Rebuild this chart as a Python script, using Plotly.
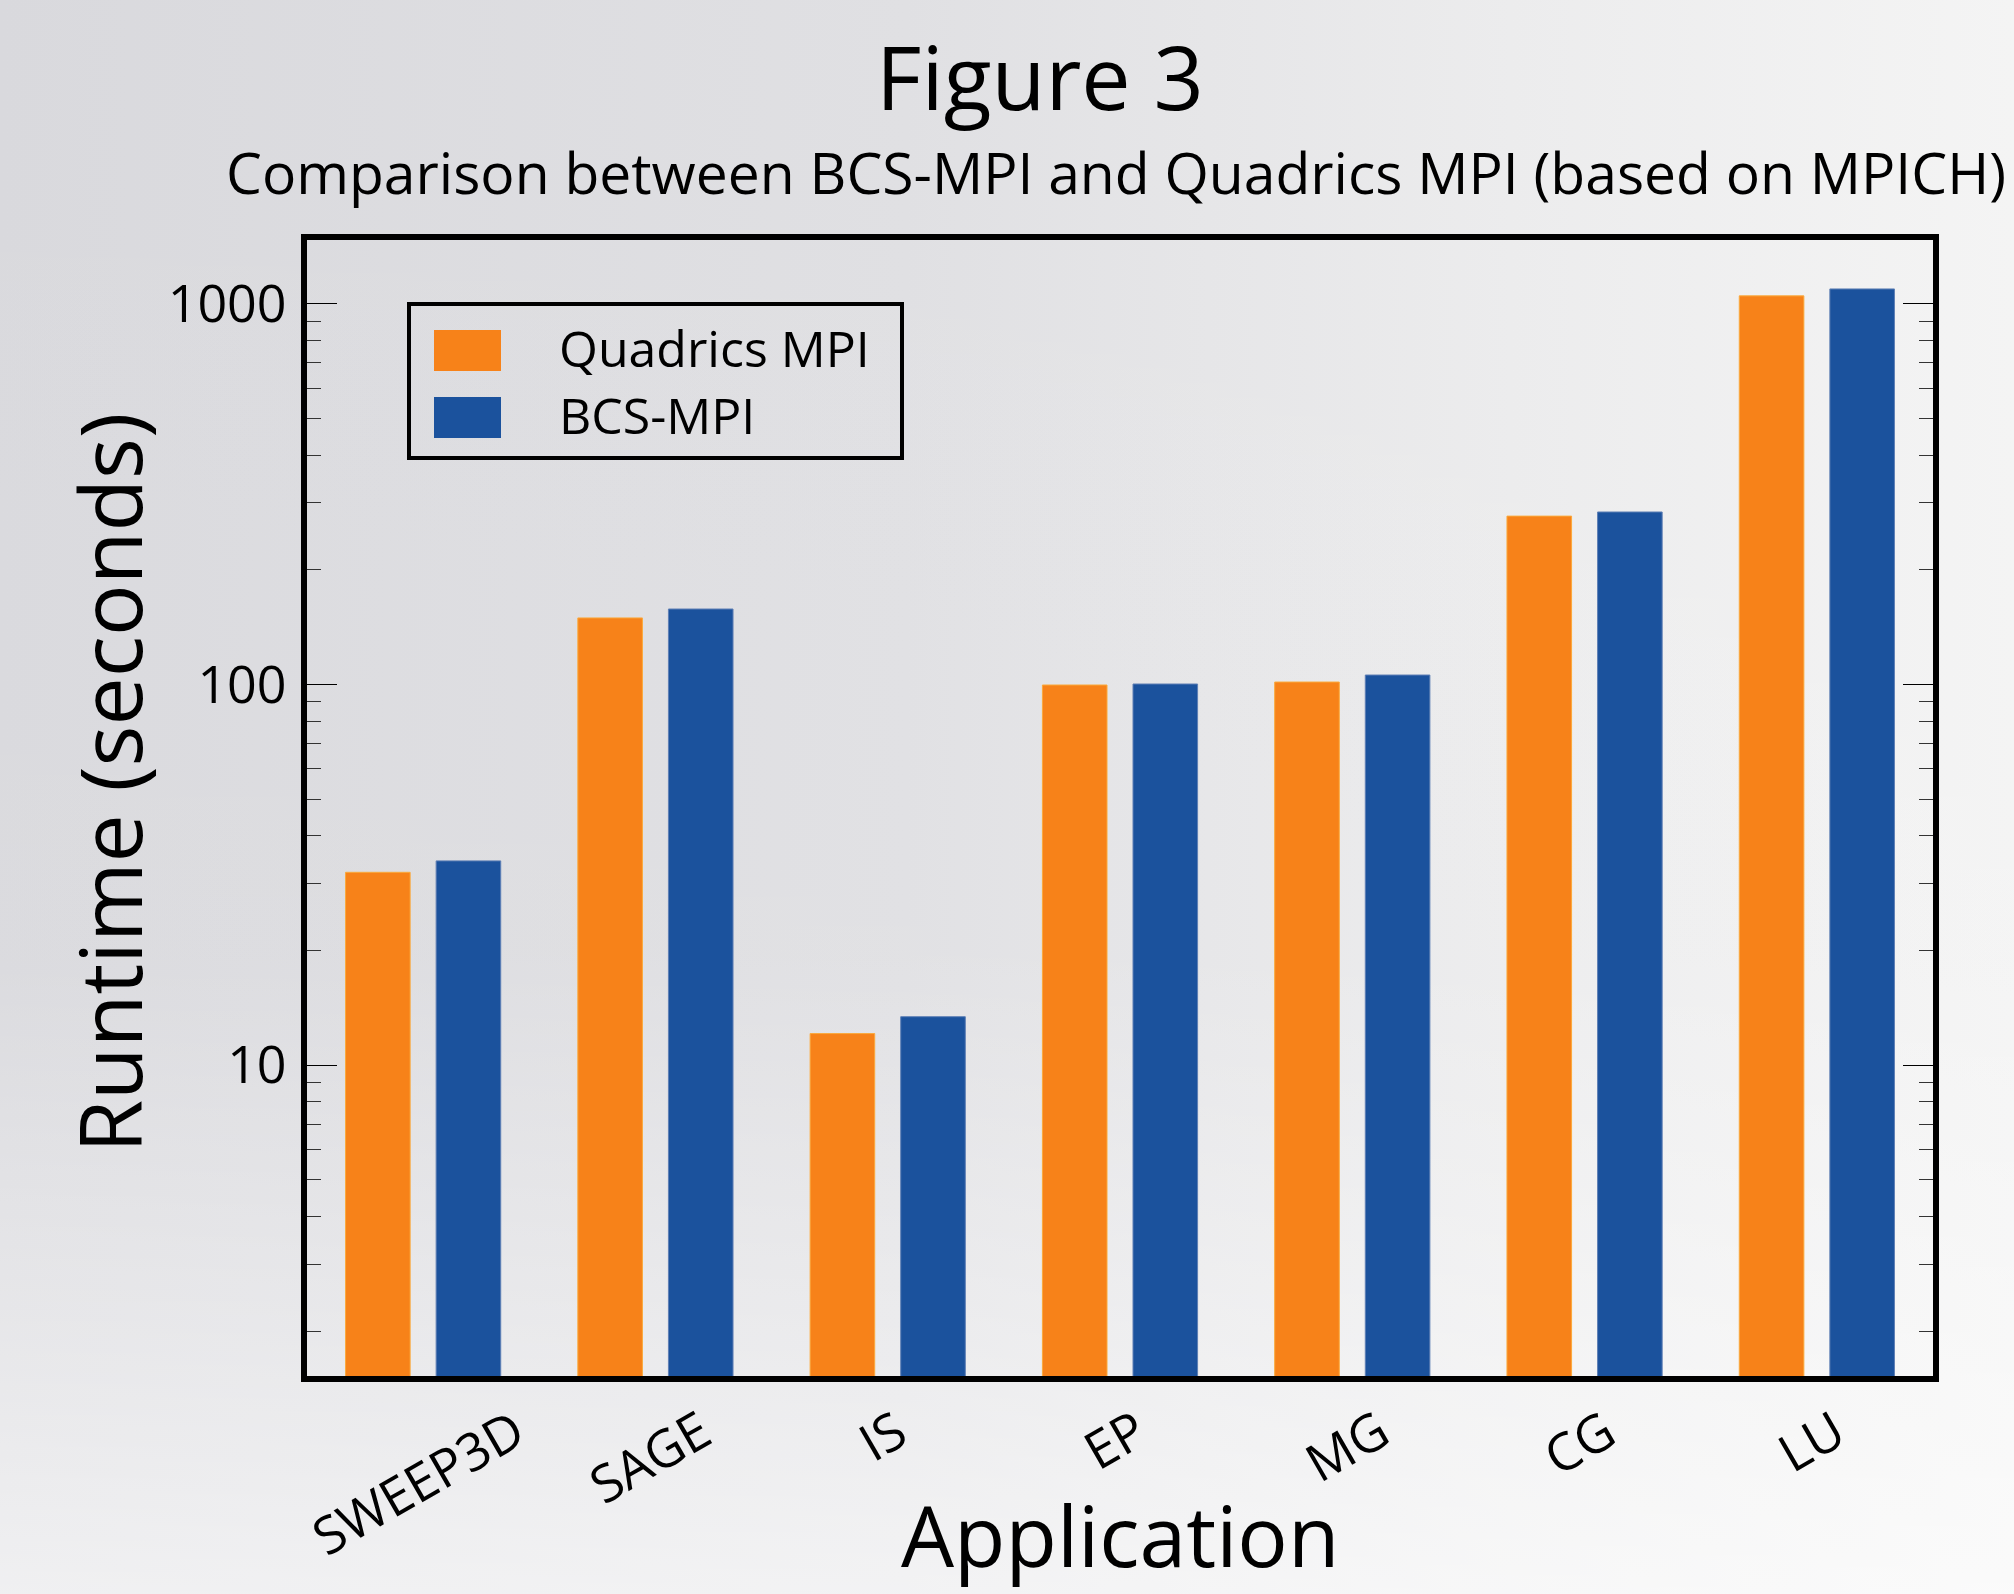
import base64
import plotly.graph_objects as go

# ---------------- data ----------------
applications = ["SWEEP3D", "SAGE", "IS", "EP", "MG", "CG", "LU"]
quadrics_mpi = [32.1, 149.6, 12.1, 99.7, 101.5, 277, 1050]
bcs_mpi = [34.4, 157.9, 13.4, 100.3, 105.9, 284, 1095]
y_tick_values = [10, 100, 1000]
y_tick_labels = ["10", "100", "1000"]
series_names = ["Quadrics MPI", "BCS-MPI"]

# ---------------- style ----------------
ORANGE = "#F78219"
BLUE = "#1B529D"
FONT = "Open Sans"
W, H = 2014, 1594
L, R, T, B = 307, 1933, 240, 1376  # plot area in pixels
PW, PH = R - L, B - T


def px_x(x):
    return (x - L) / PW


def px_y(y):
    return (B - y) / PH


fig = go.Figure()
fig.add_trace(go.Bar(x=applications, y=quadrics_mpi, name=series_names[0],
                     marker=dict(color=ORANGE, line=dict(color="#FBA93B", width=1)),
                     showlegend=False))
fig.add_trace(go.Bar(x=applications, y=bcs_mpi, name=series_names[1],
                     marker=dict(color=BLUE, line=dict(color="#5E7FB5", width=1)),
                     showlegend=False))

# background gradient image
svg = f"""<svg xmlns='http://www.w3.org/2000/svg' width='{W}' height='{H}' viewBox='0 0 {W} {H}' preserveAspectRatio='none'>
<defs>
<linearGradient id='h' x1='0' y1='0' x2='1' y2='0'>
<stop offset='0' stop-color='#d9d9dd'/>
<stop offset='0.45' stop-color='#e0e0e3'/>
<stop offset='0.75' stop-color='#ececed'/>
<stop offset='1' stop-color='#f4f4f4'/>
</linearGradient>
<linearGradient id='v' x1='0' y1='0' x2='0' y2='1'>
<stop offset='0' stop-color='#ffffff' stop-opacity='0'/>
<stop offset='0.6' stop-color='#ffffff' stop-opacity='0.05'/>
<stop offset='1' stop-color='#ffffff' stop-opacity='0.6'/>
</linearGradient>
</defs>
<rect width='{W}' height='{H}' fill='url(#h)'/>
<rect width='{W}' height='{H}' fill='url(#v)'/>
</svg>"""
bg_src = "data:image/svg+xml;base64," + base64.b64encode(svg.encode()).decode()

minor_vals = [m * d for d in (1, 10, 100) for m in range(2, 10)]

fig.update_layout(
    width=W, height=H,
    margin=dict(l=L, r=W - R, t=T, b=H - B, pad=0),
    paper_bgcolor="#e6e6e8",
    plot_bgcolor="rgba(0,0,0,0)",
    font=dict(family=FONT, color="black"),
    barmode="group",
    bargap=0.22,
    bargroupgap=0.287,
    images=[dict(source=bg_src, xref="paper", yref="paper",
                 x=px_x(0), y=px_y(0), sizex=W / PW, sizey=H / PH,
                 xanchor="left", yanchor="top", sizing="stretch", layer="below")],
    xaxis=dict(range=[-0.5, 6.5], showline=True, linewidth=6, linecolor="black",
               mirror=True, ticks="", showticklabels=False, showgrid=False, zeroline=False),
    yaxis=dict(type="log", range=[0.183, 3.168], showline=True, linewidth=6,
               linecolor="black", mirror="ticks", ticks="inside", ticklen=30,
               tickwidth=1, tickcolor="black", tickvals=y_tick_values,
               ticktext=y_tick_labels, tickfont=dict(size=52, family=FONT),
               showgrid=False, zeroline=False, ticklabelstandoff=4,
               minor=dict(tickvals=minor_vals, ticks="inside", ticklen=14,
                          tickwidth=1, tickcolor="#333333", showgrid=False)),
)

annotations = [
    dict(text="Figure 3", x=px_x(1040), y=px_y(76), xref="paper", yref="paper",
         xanchor="center", yanchor="middle", showarrow=False, font=dict(size=88)),
    dict(text="Comparison between BCS-MPI and Quadrics MPI (based on MPICH)",
         x=px_x(1116), y=px_y(172), xref="paper", yref="paper",
         xanchor="center", yanchor="middle", showarrow=False, font=dict(size=57)),
    dict(text="Runtime (seconds)", x=px_x(108), y=px_y(783), xref="paper", yref="paper",
         xanchor="center", yanchor="middle", textangle=-90, showarrow=False,
         font=dict(size=86)),
    dict(text="Application", x=px_x(1120), y=px_y(1534), xref="paper", yref="paper",
         xanchor="center", yanchor="middle", showarrow=False, font=dict(size=84)),
]
for app in applications:
    annotations.append(dict(text=app, x=app, y=px_y(1390), xref="x", yref="paper",
                            xanchor="center", yanchor="top", textangle=-30, xshift=-6,
                            showarrow=False, font=dict(size=52)))

# legend (custom, large swatches)
legend_colors = [ORANGE, BLUE]
swatch_y = [(330, 371), (397, 438)]
shapes = [dict(type="rect", xref="paper", yref="paper",
               x0=px_x(409), x1=px_x(902), y0=px_y(458), y1=px_y(304),
               line=dict(color="black", width=4), fillcolor="rgba(0,0,0,0)")]
for name, col, (y0, y1) in zip(series_names, legend_colors, swatch_y):
    shapes.append(dict(type="rect", xref="paper", yref="paper",
                       x0=px_x(434), x1=px_x(501), y0=px_y(y1), y1=px_y(y0),
                       line=dict(width=0), fillcolor=col))
    annotations.append(dict(text=name, x=px_x(557), y=px_y((y0 + y1) / 2 - 3),
                            xref="paper", yref="paper", xanchor="left", yanchor="middle",
                            showarrow=False, font=dict(size=50)))

fig.update_layout(annotations=annotations, shapes=shapes)
fig.write_html("out.html", config={"displayModeBar": False},
               post_script="document.body.style.margin='0';document.body.style.padding='0';")
